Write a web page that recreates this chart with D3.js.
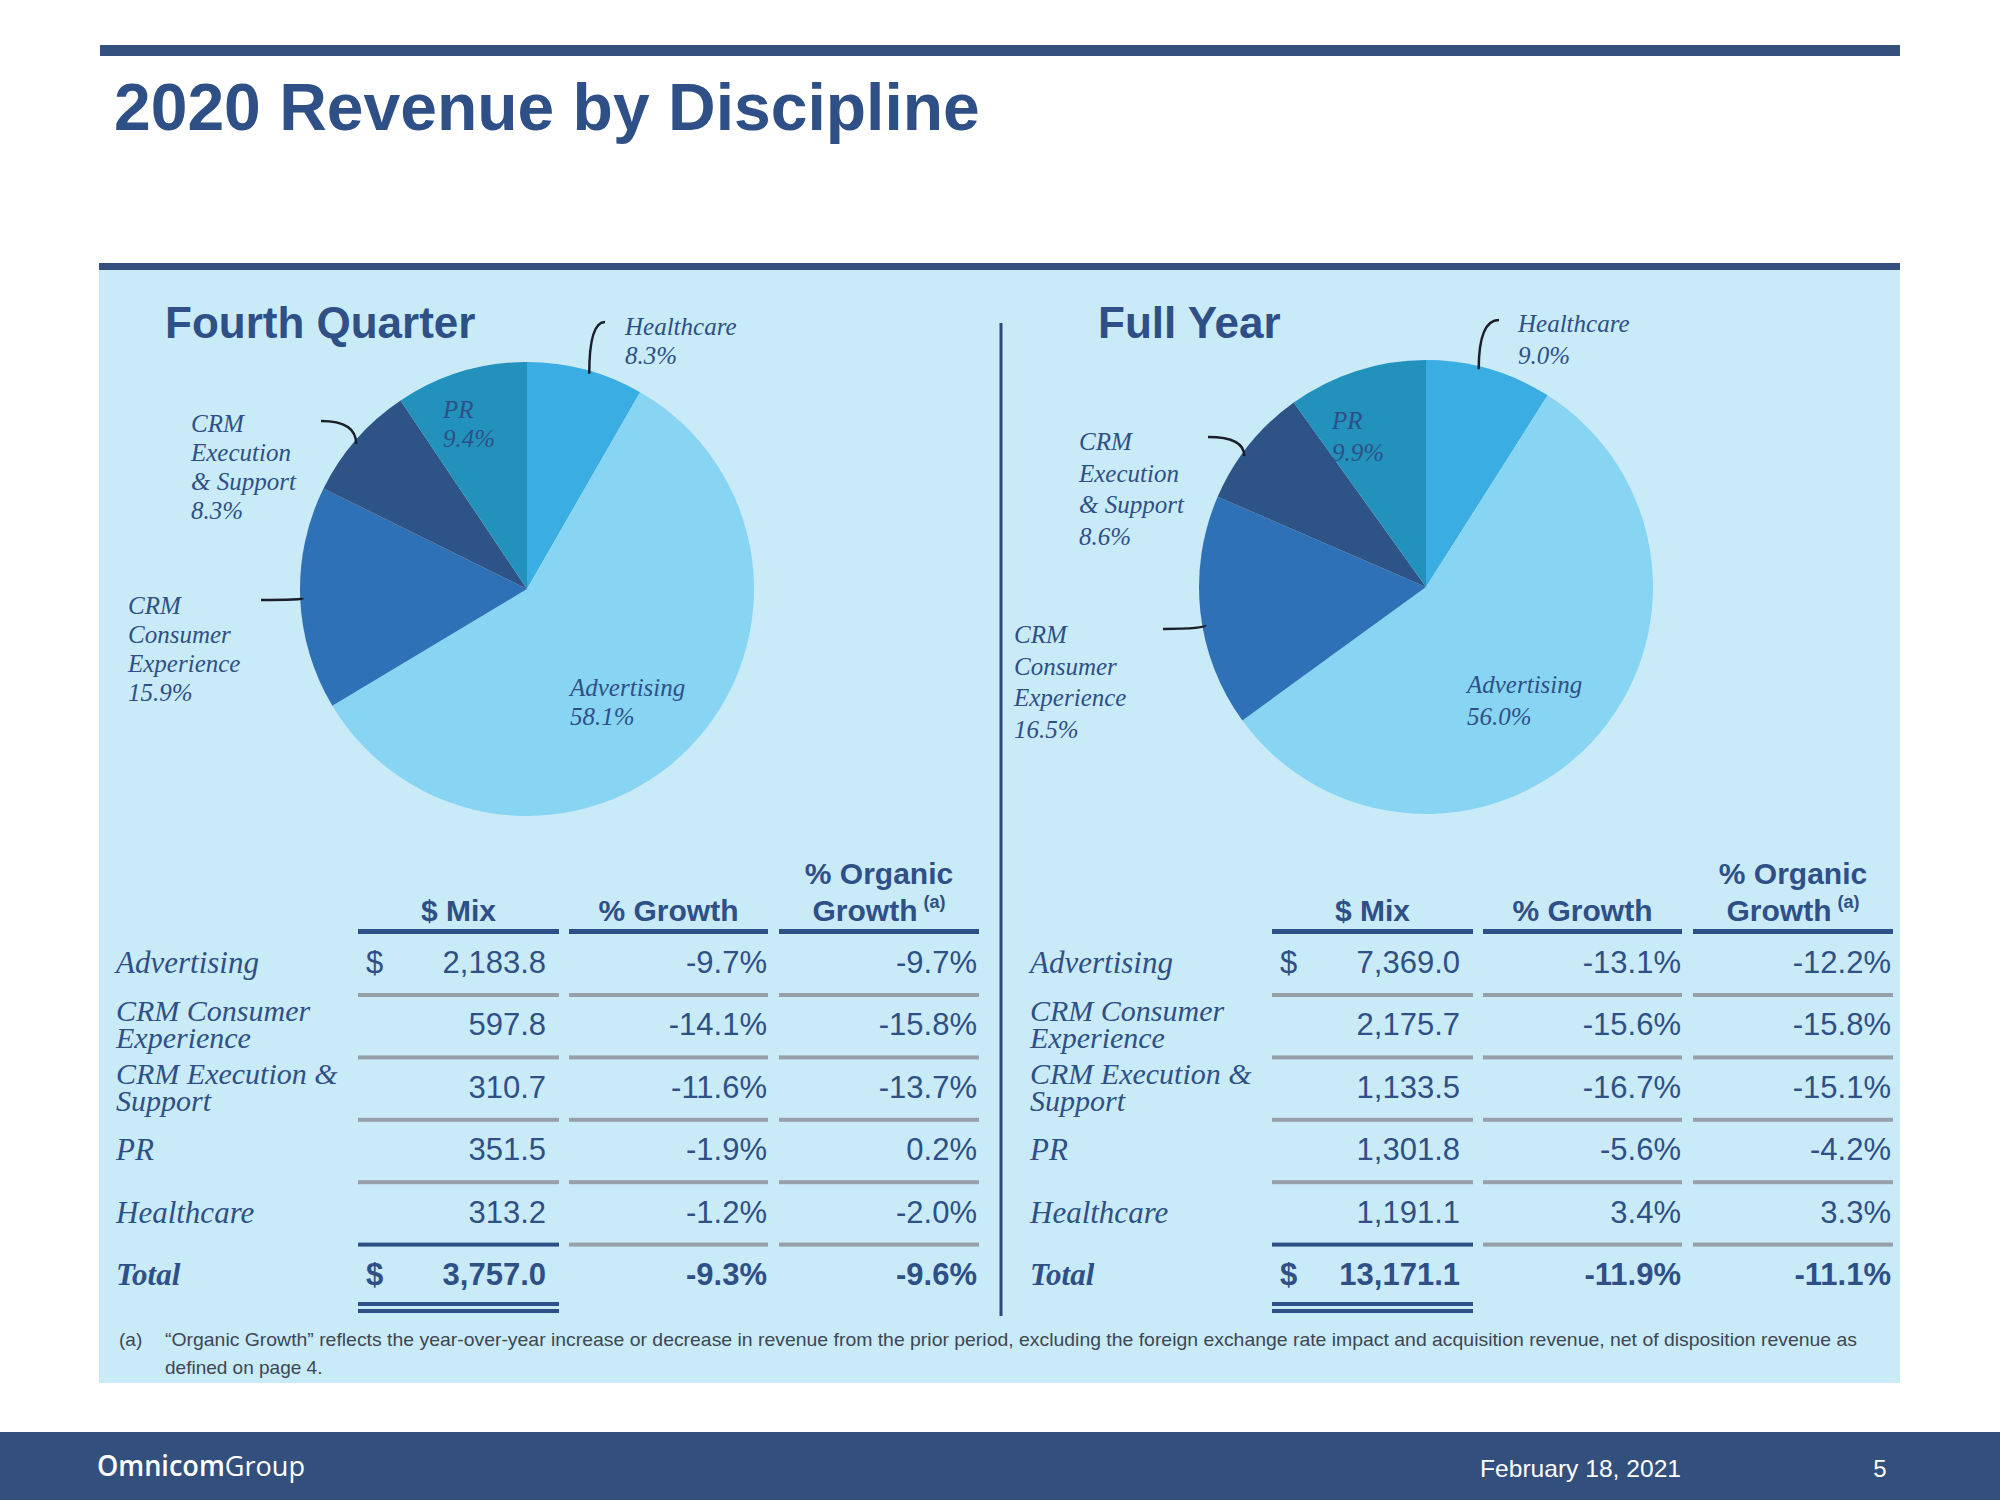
<!DOCTYPE html>
<html lang="en">
<head>
<meta charset="utf-8">
<title>2020 Revenue by Discipline</title>
<script src="https://cdn.jsdelivr.net/npm/d3@7"></script>
<style>
  body { margin: 0; background: #ffffff; overflow: hidden; }
  .sans { font-family: "Liberation Sans", Arial, sans-serif; }
  .serif { font-family: "Liberation Serif", "Times New Roman", serif; font-style: italic; }
</style>
</head>
<body>
<script>
// ---- data ----
var pieCategories = ["Healthcare", "Advertising", "CRM Consumer Experience", "CRM Execution & Support", "PR"];
var pieLabelLines = [["Healthcare"], ["Advertising"], ["CRM", "Consumer", "Experience"], ["CRM", "Execution", "& Support"], ["PR"]];
var q4Share = [8.3, 58.1, 15.9, 8.3, 9.4];
var fyShare = [9.0, 56.0, 16.5, 8.6, 9.9];

var tableRows = ["Advertising", "CRM Consumer Experience", "CRM Execution & Support", "PR", "Healthcare", "Total"];
var tableRowLines = [["Advertising"], ["CRM Consumer", "Experience"], ["CRM Execution &", "Support"], ["PR"], ["Healthcare"], ["Total"]];
var columnHeaders = [["$ Mix"], ["% Growth"], ["% Organic", "Growth"]];

var q4Mix = [2183.8, 597.8, 310.7, 351.5, 313.2, 3757.0];
var q4Growth = [-9.7, -14.1, -11.6, -1.9, -1.2, -9.3];
var q4Organic = [-9.7, -15.8, -13.7, 0.2, -2.0, -9.6];

var fyMix = [7369.0, 2175.7, 1133.5, 1301.8, 1191.1, 13171.1];
var fyGrowth = [-13.1, -15.6, -16.7, -5.6, 3.4, -11.9];
var fyOrganic = [-12.2, -15.8, -15.1, -4.2, 3.3, -11.1];

var footnote = ["\u201cOrganic Growth\u201d reflects the year-over-year increase or decrease in revenue from the prior period, excluding the foreign exchange rate impact and acquisition revenue, net of disposition revenue as",
                "defined on page 4."];

// ---- look ----
var navy = "#2E5086";
var barNavy = "#33507F";
var panelBlue = "#C9EAF7";
var sliceColors = d3.scaleOrdinal()
  .domain(pieCategories)
  .range(["#3AADE2", "#88D4F3", "#2F71B7", "#2E5386", "#2291BC"]);

var loc = d3.formatLocale({decimal: ".", thousands: ",", grouping: [3], currency: ["$", ""], minus: "-"});
var fmtMix = loc.format(",.1f");
var fmtPct = function(v) { return loc.format(".1f")(v) + "%"; };

var W = 2000, H = 1500;
var svg = d3.select("body").append("svg")
  .attr("width", W)
  .attr("height", H);

svg.append("rect").attr("width", W).attr("height", H).attr("fill", "#ffffff");

// header bars + panel
svg.append("rect").attr("x", 100).attr("y", 45).attr("width", 1800).attr("height", 11).attr("fill", barNavy);
svg.append("text").attr("class", "sans")
  .attr("x", 114).attr("y", 130)
  .attr("font-size", 66).attr("font-weight", "bold").attr("fill", navy)
  .text("2020 Revenue by Discipline");
svg.append("rect").attr("x", 99).attr("y", 269).attr("width", 1801).attr("height", 1114).attr("fill", panelBlue);
svg.append("rect").attr("x", 99).attr("y", 263).attr("width", 1801).attr("height", 7).attr("fill", barNavy);

// divider
svg.append("line")
  .attr("x1", 1001).attr("x2", 1001).attr("y1", 323).attr("y2", 1316)
  .attr("stroke", "#2E4A7A").attr("stroke-width", 3);

// ---- pies ----
var R = 227;
var pie = d3.pie().sort(null).value(function(d) { return d; });
var arc = d3.arc().innerRadius(0).outerRadius(R);

// label offsets from pie centre; lead = outer end of leader, at = where on the slice it lands
var pies = [
  { title: "Fourth Quarter", titleX: 165, cx: 527, cy: 589, lh: 29, shares: q4Share,
    labels: [ {dx: 98, dy: -254, lead: [78, -267], at: 0.54}, {dx: 43, dy: 107}, {dx: -399, dy: 25, lead: [-266, 11], at: 0.5},
              {dx: -336, dy: -157, lead: [-206, -168], at: 0.47}, {dx: -84, dy: -171} ] },
  { title: "Full Year", titleX: 1098, cx: 1426, cy: 587, lh: 31.5, shares: fyShare,
    labels: [ {dx: 92, dy: -255, lead: [73, -267], at: 0.42}, {dx: 41, dy: 106}, {dx: -412, dy: 56, lead: [-263, 42], at: 0.44},
              {dx: -347, dy: -137, lead: [-218, -150], at: 0.4}, {dx: -94, dy: -158} ] }
];

pies.forEach(function(p) {
  svg.append("text").attr("class", "sans")
    .attr("x", p.titleX).attr("y", 338)
    .attr("font-size", 44).attr("font-weight", "bold").attr("fill", navy)
    .text(p.title);

  var g = svg.append("g").attr("transform", "translate(" + p.cx + "," + p.cy + ")");
  var arcs = pie(p.shares);

  g.selectAll("path.slice")
    .data(arcs)
    .enter().append("path")
    .attr("class", "slice")
    .attr("d", arc)
    .attr("fill", function(d, i) { return sliceColors(pieCategories[i]); });

  // leader lines
  arcs.forEach(function(d, i) {
    var lab = p.labels[i];
    if (!lab.lead) return;
    var a = d.startAngle + (d.endAngle - d.startAngle) * lab.at;
    var ix = Math.sin(a) * (R - 3), iy = -Math.cos(a) * (R - 3);
    var pth = d3.path();
    pth.moveTo(lab.lead[0], lab.lead[1]);
    pth.quadraticCurveTo(ix, lab.lead[1], ix, iy);
    g.append("path")
      .attr("d", pth.toString())
      .attr("fill", "none")
      .attr("stroke", "#1b1f2a")
      .attr("stroke-width", 2.5);
  });

  // labels
  arcs.forEach(function(d, i) {
    var lab = p.labels[i];
    var lines = pieLabelLines[i].concat([fmtPct(d.data)]);
    var t = g.append("text").attr("class", "serif")
      .attr("font-size", 25).attr("fill", navy);
    lines.forEach(function(s, k) {
      t.append("tspan").attr("x", lab.dx).attr("y", lab.dy + k * p.lh).text(s);
    });
  });
});

// ---- tables ----
var rowY = d3.scalePoint().domain(tableRows).range([973, 1285]);
var lineH = 27;

var tables = [
  { x0: 0, mix: q4Mix, growth: q4Growth, organic: q4Organic },
  { x0: 914, mix: fyMix, growth: fyGrowth, organic: fyOrganic }
];

// column layout (left table)
var labelX = 116, dollarX = 366;
var cols = [
  { left: 358, right: 559, valueX: 546 },
  { left: 569, right: 768, valueX: 767 },
  { left: 779, right: 979, valueX: 977 }
];

tables.forEach(function(tb) {
  var g = svg.append("g").attr("transform", "translate(" + tb.x0 + ",0)");

  // headers
  columnHeaders.forEach(function(h, c) {
    var cx = (cols[c].left + cols[c].right) / 2;
    h.forEach(function(s, k) {
      var t = g.append("text").attr("class", "sans")
        .attr("x", cx).attr("y", 921 - (h.length - 1 - k) * 37)
        .attr("text-anchor", "middle")
        .attr("font-size", 30).attr("font-weight", "bold").attr("fill", navy)
        .text(s);
      if (c === 2 && k === 1) {
        t.append("tspan").attr("font-size", 18).attr("dy", -13).attr("dx", 6).text("(a)");
      }
    });
    g.append("rect")
      .attr("x", cols[c].left).attr("y", 929)
      .attr("width", cols[c].right - cols[c].left).attr("height", 5)
      .attr("fill", navy);
  });

  tableRows.forEach(function(r, i) {
    var y = rowY(r);
    var isTotal = (r === "Total");
    var lines = tableRowLines[i];

    var lt = g.append("text").attr("class", "serif")
      .attr("font-size", lines.length === 1 ? 31 : 30).attr("fill", navy)
      .attr("font-weight", isTotal ? "bold" : "normal");
    lines.forEach(function(s, k) {
      var ly = lines.length === 1 ? y : y - 14 + k * lineH;
      lt.append("tspan").attr("x", labelX).attr("y", ly).text(s);
    });

    if (i === 0 || isTotal) {
      g.append("text").attr("class", "sans")
        .attr("x", dollarX).attr("y", y)
        .attr("font-size", 31).attr("fill", navy)
        .attr("font-weight", isTotal ? "bold" : "normal")
        .text("$");
    }

    var vals = [fmtMix(tb.mix[i]), fmtPct(tb.growth[i]), fmtPct(tb.organic[i])];
    vals.forEach(function(v, c) {
      g.append("text").attr("class", "sans")
        .attr("x", cols[c].valueX).attr("y", y)
        .attr("text-anchor", "end")
        .attr("font-size", 31).attr("fill", navy)
        .attr("font-weight", isTotal ? "bold" : "normal")
        .text(v);
    });

    // separators under each non-total row
    if (!isTotal) {
      cols.forEach(function(col, c) {
        var dark = (tableRows[i + 1] === "Total" && c === 0);
        g.append("rect")
          .attr("x", col.left).attr("y", y + 20)
          .attr("width", col.right - col.left).attr("height", 4)
          .attr("fill", dark ? navy : "#979FA8");
      });
    } else {
      [1302, 1309].forEach(function(ly) {
        g.append("rect")
          .attr("x", cols[0].left).attr("y", ly)
          .attr("width", cols[0].right - cols[0].left).attr("height", 4)
          .attr("fill", navy);
      });
    }
  });
});

// footnote
svg.append("text").attr("class", "sans")
  .attr("x", 119).attr("y", 1346).attr("font-size", 19).attr("fill", "#3D4753")
  .text("(a)");
footnote.forEach(function(s, k) {
  var t = svg.append("text").attr("class", "sans")
    .attr("x", 165).attr("y", 1346 + k * 28).attr("font-size", 19).attr("fill", "#3D4753")
    .text(s);
  if (k === 0) t.attr("textLength", 1692).attr("lengthAdjust", "spacingAndGlyphs");
});

// footer
svg.append("rect").attr("x", 0).attr("y", 1432).attr("width", W).attr("height", H - 1432).attr("fill", "#324F7E");
var brand = svg.append("text")
  .attr("x", 97).attr("y", 1476)
  .attr("font-family", "'Open Sans', sans-serif")
  .attr("font-size", 28).attr("fill", "#ffffff")
  .attr("textLength", 208).attr("lengthAdjust", "spacingAndGlyphs");
brand.append("tspan").attr("font-weight", 600).text("Omnicom");
brand.append("tspan").attr("font-weight", 400).text("Group");

svg.append("text").attr("class", "sans")
  .attr("x", 1480).attr("y", 1477).attr("font-size", 24).attr("fill", "#ffffff")
  .attr("textLength", 201).attr("lengthAdjust", "spacingAndGlyphs")
  .text("February 18, 2021");
svg.append("text").attr("class", "sans")
  .attr("x", 1880).attr("y", 1477).attr("text-anchor", "middle").attr("font-size", 24).attr("fill", "#ffffff")
  .text("5");
</script>
</body>
</html>
